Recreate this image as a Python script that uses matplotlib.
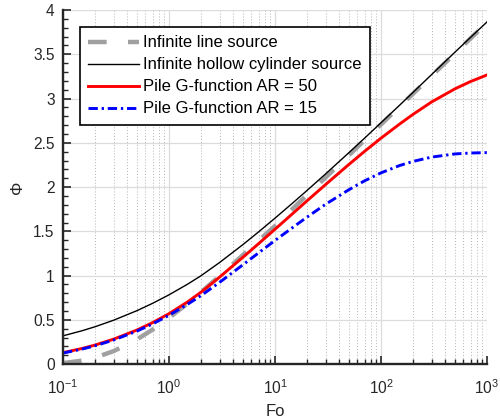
import numpy as np
import matplotlib
matplotlib.use('Agg')
import matplotlib.pyplot as plt
from matplotlib.ticker import FixedLocator, NullFormatter

plt.rcParams['font.family'] = ['Liberation Sans', 'DejaVu Sans']
plt.rcParams['mathtext.default'] = 'regular'

## Values
fo = [0.1, 0.15, 0.2, 0.3, 0.5, 0.7, 1, 1.5, 2, 3, 5, 7, 10, 15, 20, 30, 50, 70,
      100, 150, 200, 300, 500, 700, 1000]
line_source = [0.012, 0.039, 0.073, 0.147, 0.280, 0.390, 0.522, 0.687, 0.812, 0.995,
               1.234, 1.395, 1.560, 1.767, 1.909, 2.109, 2.363, 2.531, 2.708, 2.911,
               3.054, 3.257, 3.512, 3.680, 3.859]
hollow_cyl = [0.320, 0.376, 0.422, 0.496, 0.605, 0.687, 0.783, 0.904, 0.998, 1.148,
              1.352, 1.494, 1.649, 1.830, 1.961, 2.149, 2.391, 2.553, 2.727, 2.926,
              3.069, 3.271, 3.526, 3.692, 3.866]
pile_ar50 = [0.130, 0.176, 0.215, 0.282, 0.386, 0.469, 0.570, 0.704, 0.812, 0.983,
             1.209, 1.361, 1.524, 1.711, 1.844, 2.029, 2.258, 2.404, 2.553, 2.713,
             2.821, 2.962, 3.111, 3.193, 3.267]
pile_ar15 = [0.125, 0.169, 0.207, 0.272, 0.374, 0.454, 0.552, 0.677, 0.773, 0.924,
             1.124, 1.257, 1.397, 1.552, 1.660, 1.806, 1.972, 2.071, 2.161, 2.244,
             2.290, 2.339, 2.375, 2.385, 2.390]

labels = ['Infinite line source', 'Infinite hollow cylinder source',
          'Pile G-function AR = 50', 'Pile G-function AR = 15']

fig = plt.figure(figsize=(5.0, 4.2), dpi=100)
ax = fig.add_axes([0.126, 0.133, 0.848, 0.843])

ax.plot(fo, line_source, color='#a0a0a0', lw=3.2, dashes=(4.2, 4.8), label=labels[0])
ax.plot(fo, hollow_cyl, color='black', lw=1.0, label=labels[1])
ax.plot(fo, pile_ar50, color='red', lw=2.1, label=labels[2])
ax.plot(fo, pile_ar15, color='blue', lw=2.1, dashes=(3.2, 1.3, 0.8, 1.3), label=labels[3])

ax.set_xscale('log')
ax.set_xlim(0.1, 1000)
ax.set_ylim(0, 4)

ax.set_xticks([0.1, 1, 10, 100, 1000])
ax.set_xticklabels(['$10^{-1}$', '$10^{0}$', '$10^{1}$', '$10^{2}$', '$10^{3}$'])
ax.xaxis.set_minor_locator(FixedLocator([m * 10.0**e for e in range(-1, 3) for m in range(2, 10)]))
ax.xaxis.set_minor_formatter(NullFormatter())
ax.set_yticks(np.arange(0, 4.01, 0.5))
ax.set_yticklabels(['0', '0.5', '1', '1.5', '2', '2.5', '3', '3.5', '4'])
ax.yaxis.set_minor_locator(FixedLocator(np.arange(0, 4.01, 0.1)))

ax.grid(True, which='major', color='#dcdcdc', lw=0.9)
ax.grid(True, which='minor', axis='x', color='#b4b4b4', lw=0.7, linestyle=(0, (1, 2)))
ax.set_axisbelow(True)

for side in ('top', 'right'):
    ax.spines[side].set_visible(False)
for side in ('left', 'bottom'):
    ax.spines[side].set_linewidth(1.7)
    ax.spines[side].set_color('#262626')

ax.tick_params(which='both', direction='in', colors='#262626', labelsize=11.2)
ax.tick_params(which='major', length=6, width=1.2)
ax.tick_params(which='minor', length=3.5, width=1.0)
ax.tick_params(axis='y', pad=6)
ax.tick_params(axis='x', pad=10)

ax.set_xlabel('Fo', fontsize=12, color='#262626', labelpad=5)
ax.set_ylabel('\u03a6', fontsize=12, color='#262626', labelpad=6)

leg = ax.legend(loc='upper left', bbox_to_anchor=(0.040, 0.952), fontsize=12,
                handlelength=3.06, handletextpad=0.25, borderpad=0.5,
                labelspacing=0.42, fancybox=False, framealpha=1,
                edgecolor='black', borderaxespad=0)
leg.get_frame().set_linewidth(1.2)

plt.savefig('out.png', dpi=100)
plt.close('all')
